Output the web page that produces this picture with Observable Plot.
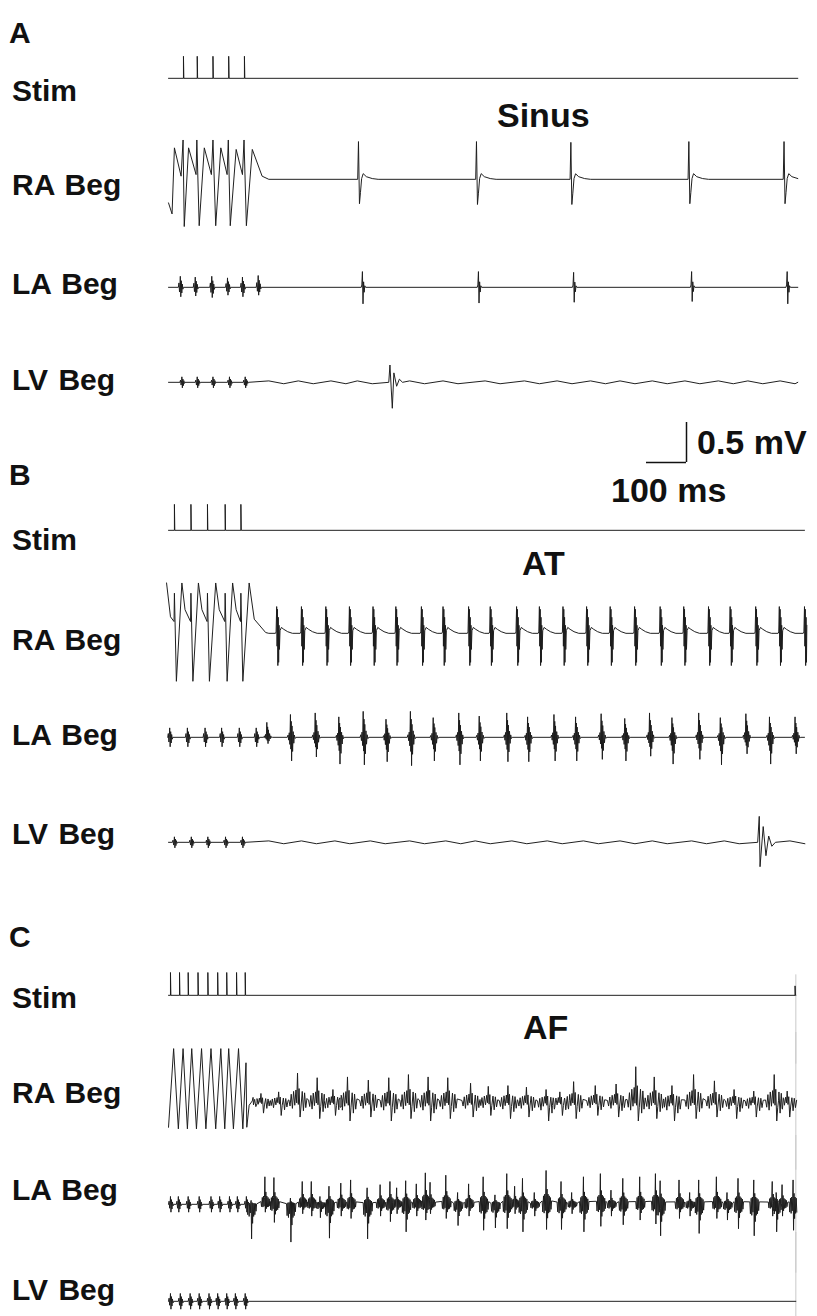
<!DOCTYPE html>
<html><head><meta charset="utf-8">
<script src="https://cdn.jsdelivr.net/npm/d3@7"></script>
<script src="https://cdn.jsdelivr.net/npm/@observablehq/plot@0.6"></script>
<style>
html,body{margin:0;padding:0;background:#fff;}
body{width:817px;height:1316px;position:relative;overflow:hidden;font-family:"Liberation Sans",Arial,Helvetica,sans-serif;}
.t{position:absolute;font-weight:bold;color:#111;line-height:1;white-space:nowrap;}
.p{position:absolute;}
</style></head><body>
<script>
// ===== DATA (time in ms from trace start, amplitude in mV) =====
// --- Panel A : Sinus ---
const stimA_t = [38, 73, 113, 153, 193];
const stimA_amp = 0.28;
const raA_pace = [[0,-0.3],[9,-0.44],[15,0.40],[32,0.04],[37,0.50],[40,-0.60],[51,0.40],[70,0.06],[72,0.50],[78,-0.59],[91,0.40],[109,0.06],[113,0.50],[120,-0.59],[133,0.40],[149,0.06],[152,0.50],[157,-0.59],[172,0.38],[188,0.06],[192,0.50],[198,-0.59],[213,0.38],[238,0.04],[255,0]];
const raA_beat_t = [483, 783, 1023, 1323, 1565];
const raA_beat_up = [0.48, 0.48, 0.47, 0.48, 0.48];
const raA_beat_dn = [-0.31, -0.32, -0.32, -0.31, -0.31];
const laA_pace_t = [30, 68, 110, 150, 188, 228];
const laA_pace_up = [0.14, 0.13, 0.14, 0.12, 0.13, 0.15];
const laA_pace_dn = [-0.12, -0.11, -0.13, -0.10, -0.12, -0.10];
const laA_beat_t = [493, 788, 1030, 1330, 1573];
const laA_beat_up = [0.20, 0.20, 0.19, 0.20, 0.20];
const laA_beat_dn = [-0.21, -0.20, -0.19, -0.18, -0.21];
const lvA_pace_t = [34, 73, 113, 155, 195];
const lvA_pace_amp = 0.07;
const lvA_qrs = [[560,0],[563,0.22],[569,-0.33],[573,0.12],[580,-0.05],[587,0.04],[595,0]];
const lvA_wave_t = [255, 330, 413, 480, 613, 698, 805, 905, 988, 1073, 1148, 1230, 1313, 1398, 1473, 1555];
const lvA_wave_amp = 0.018;

// --- Panel B : AT ---
const stimB_t = [15, 57, 99, 144, 184];
const stimB_amp = 0.33;
const raB_pace = [[-5,0.64],[5,0.21],[14,0.15],[15,0.51],[20,-0.61],[34,0.64],[42,0.30],[56,0.15],[57,0.51],[62,-0.61],[76,0.64],[85,0.30],[98,0.15],[99,0.51],[104,-0.61],[120,0.64],[129,0.30],[143,0.15],[144,0.51],[149,-0.61],[163,0.64],[172,0.30],[183,0.15],[184,0.51],[189,-0.61],[205,0.64],[218,0.18],[247,0.01],[255,0]];
const raB_beat_t = [275, 338, 400, 460, 520, 578, 643, 698, 763, 818, 885, 943, 1003, 1063, 1123, 1185, 1250, 1310, 1373, 1428, 1493, 1553, 1617];
const raB_beat_up = 0.34;
const raB_beat_dn = -0.41;
const laB_pace_t = [3, 48, 93, 135, 180, 223];
const laB_pace_amp = 0.12;
const laB_beat_t = [250, 310, 373, 433, 495, 553, 615, 673, 738, 790, 860, 913, 980, 1035, 1100, 1160, 1223, 1280, 1348, 1403, 1468, 1528, 1593];
const laB_beat_up = [0.19, 0.29, 0.31, 0.26, 0.33, 0.23, 0.33, 0.25, 0.31, 0.27, 0.31, 0.26, 0.29, 0.26, 0.30, 0.24, 0.31, 0.25, 0.31, 0.25, 0.30, 0.26, 0.26];
const laB_beat_dn = [-0.08, -0.30, -0.25, -0.34, -0.35, -0.31, -0.36, -0.30, -0.35, -0.30, -0.31, -0.31, -0.30, -0.30, -0.28, -0.30, -0.24, -0.34, -0.28, -0.35, -0.21, -0.34, -0.21];
const lvB_pace_t = [15, 58, 100, 145, 188];
const lvB_pace_amp = 0.07;
const lvB_qrs = [[1498,0],[1502,0.33],[1504,-0.31],[1512,0.20],[1519,-0.17],[1526,0.08],[1534,-0.05],[1543,0]];
const lvB_wave_t = [255, 338, 423, 513, 613, 705, 780, 873, 963, 1055, 1148, 1230, 1330, 1413, 1580];
const lvB_wave_amp = 0.018;

// --- Panel C : AF ---
const stimC_t = [5, 28, 50, 75, 100, 125, 148, 173, 195];
const stimC_amp = 0.29;
const raC_pace = [[0,-0.33],[13,0.67],[25,-0.35],[37,0.67],[48,-0.35],[59,0.67],[71,-0.35],[84,0.67],[95,-0.35],[108,0.67],[120,-0.35],[133,0.67],[143,-0.35],[153,0.67],[165,-0.35],[178,0.67],[189,-0.35],[197,0.49],[199,-0.33],[205,-0.05],[215,0.05],[225,-0.03]];
const raC_af_t  = [235, 280, 328, 378, 418, 455, 508, 560, 610, 660, 710, 768, 813, 863, 910, 960, 995, 1030, 1085, 1138, 1188, 1235, 1280, 1335, 1388, 1438, 1488, 1540, 1573];
const raC_af_up = [0.10, 0.12, 0.36, 0.30, 0.15, 0.31, 0.27, 0.30, 0.34, 0.31, 0.30, 0.23, 0.19, 0.20, 0.18, 0.15, 0.12, 0.25, 0.20, 0.22, 0.44, 0.31, 0.20, 0.34, 0.26, 0.15, 0.13, 0.34, 0.13];
const raC_af_dn = [-0.15, -0.18, -0.20, -0.22, -0.18, -0.25, -0.20, -0.25, -0.22, -0.25, -0.22, -0.20, -0.18, -0.22, -0.20, -0.25, -0.18, -0.22, -0.18, -0.20, -0.25, -0.22, -0.25, -0.22, -0.20, -0.22, -0.20, -0.25, -0.20];
const laC_pace_t = [5, 25, 50, 78, 108, 130, 155, 175, 198];
const laC_pace_amp = 0.10;
const laC_af_t  = [210, 245, 268, 310, 340, 363, 385, 408, 438, 463, 505, 538, 563, 580, 603, 630, 653, 665, 705, 735, 763, 800, 830, 860, 880, 900, 930, 960, 998, 1025, 1055, 1098, 1125, 1155, 1198, 1238, 1250, 1298, 1325, 1348, 1393, 1420, 1448, 1488, 1535, 1545, 1560, 1588];
const laC_af_up = [0.05, 0.35, 0.34, 0.08, 0.29, 0.29, 0.10, 0.23, 0.27, 0.31, 0.21, 0.25, 0.29, 0.21, 0.30, 0.26, 0.40, 0.28, 0.37, 0.15, 0.26, 0.35, 0.12, 0.39, 0.23, 0.33, 0.15, 0.43, 0.29, 0.15, 0.35, 0.39, 0.18, 0.33, 0.35, 0.39, 0.30, 0.31, 0.15, 0.31, 0.35, 0.15, 0.33, 0.31, 0.29, 0.15, 0.25, 0.31];
const laC_af_dn = [-0.44, -0.10, -0.23, -0.48, -0.12, -0.15, -0.17, -0.43, -0.15, -0.18, -0.44, -0.15, -0.22, -0.12, -0.35, -0.15, -0.20, -0.12, -0.18, -0.27, -0.15, -0.33, -0.30, -0.31, -0.12, -0.35, -0.15, -0.32, -0.32, -0.12, -0.35, -0.28, -0.15, -0.26, -0.20, -0.25, -0.40, -0.18, -0.15, -0.37, -0.18, -0.20, -0.31, -0.40, -0.15, -0.35, -0.15, -0.33];
const lvC_pace_t = [5, 30, 55, 78, 103, 125, 148, 170, 195];
const lvC_pace_amp = 0.10;

// waveform templates: [ms offset, fraction of up (+) / down (-) amplitude]
const tplSinusRA = [[-2,0],[0,1],[2.5,-1],[5,-0.55],[8,0.02],[12,0.15],[20,0.07],[35,0.02],[50,0]];
const tplSinusLA = [[-3,0],[-1.5,0.15],[0,1],[1.5,-1],[3,0.35],[4.5,-0.3],[6,0.1],[8,0]];
const tplPace = [[-5,0],[-3.5,0.4],[-2,-0.5],[-0.7,0.3],[0,1],[1.2,-1],[2.5,0.6],[3.8,-0.6],[5,0.3],[6.5,-0.2],[8,0]];
const tplAT_RA = [[-3,0],[-1.5,0.05],[0,1],[1,-0.4],[2,0.9],[3,-1],[4,0.6],[5,-0.9],[6,0.3],[7,-0.5],[8.5,0.1],[12,0.22],[18,0.15],[28,0.06],[40,0]];
const tplAT_LA = [[-8,0],[-6,0.1],[-4.5,-0.12],[-3,0.2],[-1.5,-0.3],[0,1],[1,-0.5],[2,0.7],[3,-1],[4,0.5],[5.5,-0.6],[7,0.25],[8.5,-0.25],[10,0.1],[12,-0.05],[14,0]];
const tplAF_RA = [[-22,0.05],[-19,-0.3],[-16,0.25],[-13,-0.45],[-10,0.35],[-7,-0.25],[-4,0.4],[-2,-0.1],[0,1],[2,-0.2],[4,0.45],[6.5,-1],[9,-0.3],[12,0.35],[15,-0.6],[18,0.3],[21,-0.4],[24,0.1]];
const tplAF_LA = [[-10,0.1],[-8.5,-0.3],[-6.5,0.25],[-5,-0.35],[-3.5,0.3],[-2,-0.25],[-1,0.25],[0,1],[1.2,-1],[2.5,0.45],[3.8,-0.55],[5,0.3],[6.5,-0.35],[8,0.25],[9.5,-0.3],[11,0.2],[12.5,-0.2],[14,0.1]];
const tplStim = [[0,0],[0,1],[1,0]];
const tplWave = [[0,1],[38,-1]];

// ===== BUILDERS =====
function events(ts, ups, dns, tpl){
  const pts=[];
  ts.forEach((t,i)=>{
    const u = Array.isArray(ups)?ups[i]:ups;
    const d = Array.isArray(dns)?dns[i]:dns;
    tpl.forEach(([dt,f])=>pts.push({t:t+dt, v: f>=0 ? f*u : -f*d}));
  });
  return pts;
}
function verts(arr){ return arr.map(([t,v])=>({t,v})); }
function trace(tEnd, ...parts){
  let pts = [].concat(...parts);
  const minT = d3.min(pts, d=>d.t), maxT = d3.max(pts, d=>d.t);
  if (minT > 0) pts.push({t:0, v:0});
  if (maxT < tEnd) pts.push({t:tEnd, v:0});
  pts = pts.filter(d => d.t <= tEnd + 3);
  pts = pts.map((d,i)=>({...d, i}));
  pts.sort((a,b)=> a.t-b.t || a.i-b.i);
  return pts;
}

const W = 660, H = 140, X0 = 168;
function place(el, left, top){
  const div = document.createElement("div");
  div.className = "p"; div.style.left = left+"px"; div.style.top = top+"px";
  div.appendChild(el); document.body.appendChild(div);
}
function tracePlot(pts, baseY, extra=[]){
  const svg = Plot.plot({
    width: W, height: H, margin: 0,
    x: {domain:[0, W/0.4], axis: null},
    y: {domain:[-H/160, H/160], axis: null},
    style: {background: "transparent", overflow: "visible"},
    marks: [
      ...extra,
      Plot.line(pts, {x:"t", y:"v", stroke:"#1c1c1c", strokeWidth:1, strokeLinejoin:"round"})
    ]
  });
  place(svg, X0, baseY - H/2);
}

// ===== PANEL A =====
tracePlot(trace(1600, events(stimA_t, stimA_amp, 0, tplStim)), 79);
tracePlot(trace(1600, verts(raA_pace), events(raA_beat_t, raA_beat_up, raA_beat_dn, tplSinusRA)), 180);
tracePlot(trace(1600, events(laA_pace_t, laA_pace_up, laA_pace_dn, tplPace), events(laA_beat_t, laA_beat_up, laA_beat_dn, tplSinusLA)), 288);
tracePlot(trace(1600, events(lvA_pace_t, lvA_pace_amp, -lvA_pace_amp, tplPace), verts(lvA_qrs), events(lvA_wave_t, lvA_wave_amp, -lvA_wave_amp, tplWave)), 383);

// ===== PANEL B =====
tracePlot(trace(1617, events(stimB_t, stimB_amp, 0, tplStim)), 531);
tracePlot(trace(1620, verts(raB_pace), events(raB_beat_t, raB_beat_up, raB_beat_dn, tplAT_RA)), 634);
tracePlot(trace(1617, events(laB_pace_t, laB_pace_amp, -laB_pace_amp, tplPace), events(laB_beat_t, laB_beat_up, laB_beat_dn, tplAT_LA)), 738);
tracePlot(trace(1617, events(lvB_pace_t, lvB_pace_amp, -lvB_pace_amp, tplPace), verts(lvB_qrs), events(lvB_wave_t, lvB_wave_amp, -lvB_wave_amp, tplWave)), 843);

// ===== PANEL C =====
const edgeC = (y1, y2) => Plot.ruleX([1595], {y1, y2, stroke:"#c8c8c8", strokeWidth:1});
tracePlot(trace(1595, events(stimC_t, stimC_amp, 0, tplStim), events([1593], 0.12, 0, tplStim)), 996, [edgeC(0.26, -0.875)]);
tracePlot(trace(1595, verts(raC_pace), events(raC_af_t, raC_af_up, raC_af_dn, tplAF_RA)), 1102, [edgeC(0.875, -0.875)]);
tracePlot(trace(1595, events(laC_pace_t, laC_pace_amp, -laC_pace_amp, tplPace), events(laC_af_t, laC_af_up, laC_af_dn, tplAF_LA)), 1205, [edgeC(0.875, -0.875)]);
tracePlot(trace(1595, events(lvC_pace_t, lvC_pace_amp, -lvC_pace_amp, tplPace)), 1302, [edgeC(0.875, -0.2)]);

// ===== SCALE BAR (100 ms, 0.5 mV) =====
const scaleMs = 100, scaleMv = 0.5;
const sb = Plot.plot({
  width: 60, height: 60, margin: 0,
  x: {domain:[0, 150], axis:null},
  y: {domain:[0, 0.75], axis:null},
  style: {background:"transparent", overflow:"visible"},
  marks: [
    Plot.ruleY([0], {x1: 0, x2: scaleMs, stroke:"#111", strokeWidth:1.5}),
    Plot.ruleX([scaleMs], {y1: 0, y2: scaleMv, stroke:"#111", strokeWidth:1.5})
  ]
});
place(sb, 646, 402);

// ===== TEXT =====
const LBL = 30, LET = 30, TTL = 34, SCL = 34;
const texts = [
  ["A", 9, 33, LET], ["Stim", 12, 91, LBL], ["Sinus", 497, 115, TTL],
  ["RA Beg", 12, 185, LBL], ["LA Beg", 12, 284, LBL], ["LV Beg", 12, 380, LBL],
  [scaleMv + " mV", 697, 442, SCL], [scaleMs + " ms", 611, 490, SCL],
  ["B", 9, 475, LET], ["Stim", 12, 540, LBL], ["AT", 522, 563, TTL],
  ["RA Beg", 12, 640, LBL], ["LA Beg", 12, 735, LBL], ["LV Beg", 12, 834, LBL],
  ["C", 9, 937, LET], ["Stim", 12, 998, LBL], ["AF", 523, 1027, TTL],
  ["RA Beg", 12, 1093, LBL], ["LA Beg", 12, 1190, LBL], ["LV Beg", 12, 1290, LBL]
];
for (const [s, x, cy, fs] of texts){
  const d = document.createElement("div");
  d.className = "t"; d.textContent = s;
  d.style.fontSize = fs + "px";
  d.style.left = x + "px";
  d.style.top = (cy - 0.49*fs) + "px";
  if (s.includes("Beg")) d.style.wordSpacing = "2px";
  document.body.appendChild(d);
}
</script>
</body></html>
